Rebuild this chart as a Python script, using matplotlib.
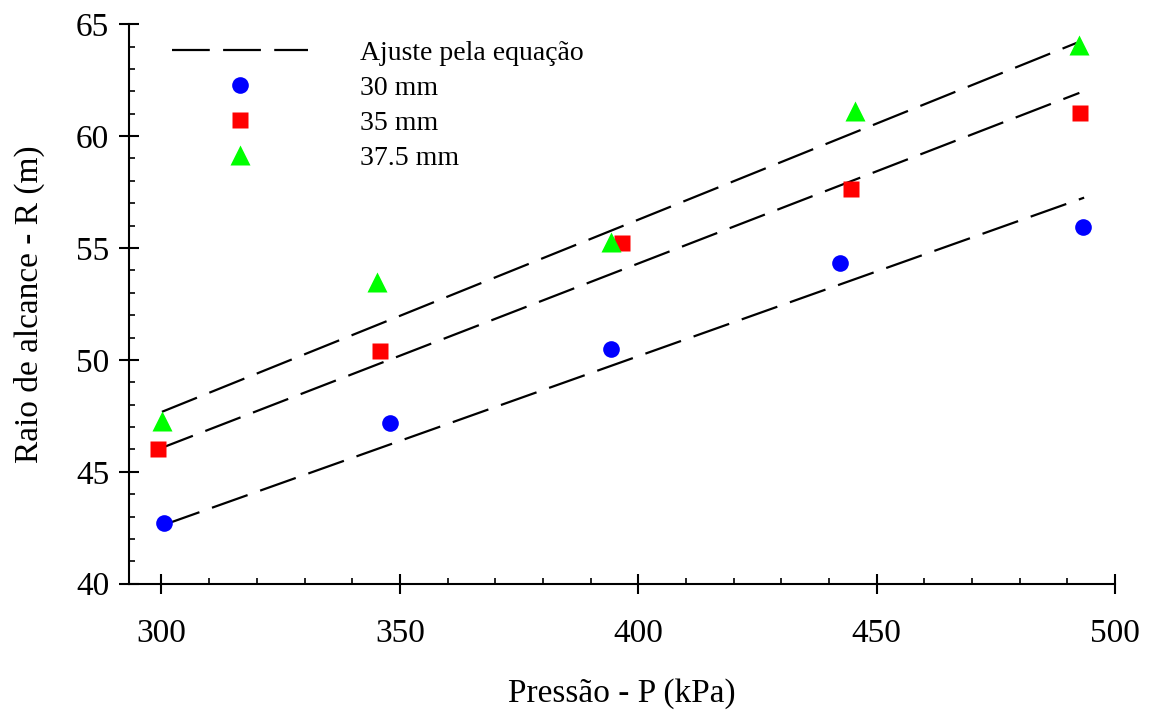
import matplotlib.pyplot as plt
from matplotlib.ticker import MultipleLocator

plt.rcParams['font.family'] = ['Liberation Serif', 'DejaVu Serif']

# measured points (pressure kPa, radius m)
p_30 = [300.5, 347.9, 394.2, 442.3, 493.3]
r_30 = [42.71, 47.17, 50.49, 54.33, 55.94]
p_35 = [299.2, 345.9, 396.5, 444.6, 492.6]
r_35 = [46.03, 50.40, 55.22, 57.63, 61.03]
p_375 = [300.1, 345.2, 394.2, 445.4, 492.4]
r_375 = [47.25, 53.50, 55.27, 61.12, 64.06]

# fitted lines (end points)
fit_p_30 = [300.5, 493.5]
fit_r_30 = [42.63, 57.25]
fit_p_35 = [299.2, 492.5]
fit_r_35 = [46.00, 61.93]
fit_p_375 = [300.1, 492.0]
fit_r_375 = [47.68, 64.17]

fig = plt.figure(figsize=(11.52, 7.11), dpi=100)
ax = fig.add_axes([0.112, 0.179, 0.856, 0.787])

dash = (0, (17, 6))
ax.plot(fit_p_30, fit_r_30, color='black', lw=1.6, linestyle=dash, label='Ajuste pela equação')
ax.plot(fit_p_35, fit_r_35, color='black', lw=1.6, linestyle=dash)
ax.plot(fit_p_375, fit_r_375, color='black', lw=1.6, linestyle=dash)

ax.plot(p_30, r_30, 'o', color='#0000ff', ms=12, mec='none', label='30 mm')
ax.plot(p_35, r_35, 's', color='#ff0000', ms=11.5, mec='none', label='35 mm')
ax.plot(p_375, r_375, '^', color='#00ff00', ms=14, mec='none', label='37.5 mm')

ax.set_xlim(293.2, 500)
ax.set_ylim(40, 65)
ax.xaxis.set_major_locator(MultipleLocator(50))
ax.xaxis.set_minor_locator(MultipleLocator(10))
ax.yaxis.set_major_locator(MultipleLocator(5))
ax.yaxis.set_minor_locator(MultipleLocator(1))

ax.spines['top'].set_visible(False)
ax.spines['right'].set_visible(False)
ax.spines['left'].set_linewidth(1.5)
ax.spines['bottom'].set_linewidth(1.5)
ax.tick_params(which='major', direction='inout', length=14.5, width=1.5, labelsize=24)
ax.tick_params(which='minor', direction='in', length=4.5, width=1.2)
ax.tick_params(axis='x', which='major', pad=18)
ax.tick_params(axis='y', which='major', pad=7)

ax.set_xlabel('Pressão - P (kPa)', fontsize=24, labelpad=21)
ax.set_ylabel('Raio de alcance - R (m)', fontsize=24, labelpad=22)

ax.legend(loc='upper left', frameon=False, fontsize=20, handlelength=4.9,
          handletextpad=1.85, labelspacing=0.35, borderaxespad=0.3,
          bbox_to_anchor=(0.024, 1.006))

fig.savefig('out.png', dpi=100)
